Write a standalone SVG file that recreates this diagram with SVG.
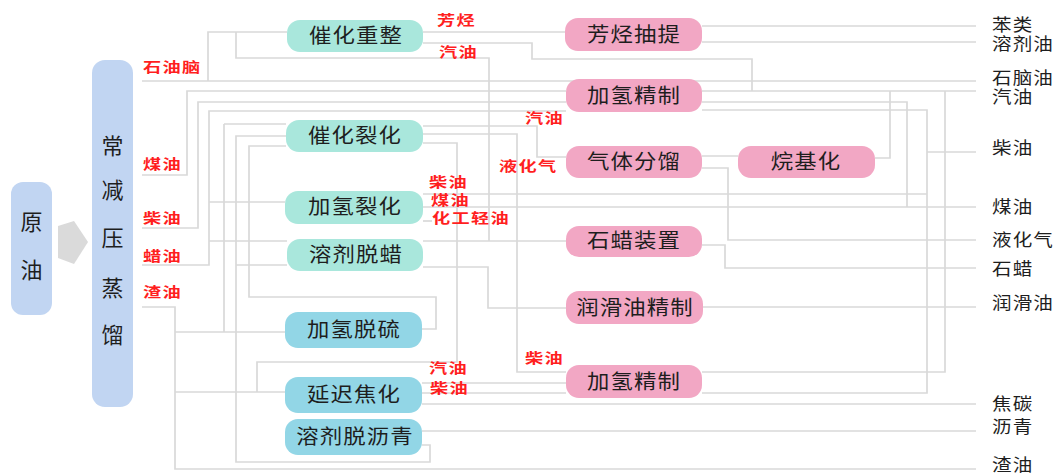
<svg xmlns="http://www.w3.org/2000/svg" width="1058" height="473" viewBox="0 0 1058 473">
<style>
.ln{fill:none;stroke:#d9d9d9;stroke-width:1.7}
.teal{fill:#a9e7dc}
.blue{fill:#92d6e6}
.pink{fill:#f2a7c4}
.col{fill:#c1d5f2}
.nt{font-family:"Noto Sans CJK SC","Noto Sans",sans-serif;font-size:20px;fill:#1e1e1e;text-anchor:middle;letter-spacing:1px}
.vt{font-family:"Noto Sans CJK SC","Noto Sans",sans-serif;font-size:22px;fill:#1e1e1e;text-anchor:middle}
.rl{font-family:"Noto Sans CJK SC","Noto Sans",sans-serif;font-size:14px;font-weight:bold;fill:#ff1f1f;letter-spacing:1px}
.ol{font-family:"Noto Sans CJK SC","Noto Sans",sans-serif;font-size:17px;fill:#1e1e1e;letter-spacing:1px}
</style>
<rect width="1058" height="473" fill="#fff"/>
<g id="connectors">
<path class="ln" d="M142,81 H976"/>
<path class="ln" d="M208,81 V32 H287"/>
<path class="ln" d="M236,32 V58 H489 V241"/>
<path class="ln" d="M142,175 H187 V91 H566"/>
<path class="ln" d="M702,91 H976"/>
<path class="ln" d="M142,228 H198 V102 H566"/>
<path class="ln" d="M702,102 H907 V207"/>
<path class="ln" d="M142,265 H209 V111 H566"/>
<path class="ln" d="M702,110 H927 V393 H702"/>
<path class="ln" d="M209,202 H285"/>
<path class="ln" d="M209,241 H287"/>
<path class="ln" d="M423,32 H565"/>
<path class="ln" d="M423,43 H532 V59 H752 V91"/>
<path class="ln" d="M702,26 H976"/>
<path class="ln" d="M702,42 H976"/>
<path class="ln" d="M224,124 H286 M224,124 V332"/>
<path class="ln" d="M286,136 H236 V462 H430 V445 H422"/>
<path class="ln" d="M236,265 H287"/>
<path class="ln" d="M286,146 H249 V297 H436 V329 H422"/>
<path class="ln" d="M423,126 H537 V157 H566"/>
<path class="ln" d="M423,134 H517 V372 H566"/>
<path class="ln" d="M423,143 H457 V362 H257 V392"/>
<path class="ln" d="M423,194 H927"/>
<path class="ln" d="M423,207 H976"/>
<path class="ln" d="M423,221 H432"/>
<path class="ln" d="M423,241 H566"/>
<path class="ln" d="M423,267 H488 V308 H566"/>
<path class="ln" d="M702,156 H738"/>
<path class="ln" d="M702,168 H728 V240 H976"/>
<path class="ln" d="M875,158 H890 V91"/>
<path class="ln" d="M702,245 H725 V268 H976"/>
<path class="ln" d="M703,307 H976"/>
<path class="ln" d="M702,372 H945 V91"/>
<path class="ln" d="M927,152 H976"/>
<path class="ln" d="M142,307 H175 V469 H976 M175,332 H285 M175,392 H285"/>
<path class="ln" d="M422,383 H566 M422,393 H566"/>
<path class="ln" d="M422,404 H976"/>
<path class="ln" d="M422,431 H976"/>
</g>
<g id="n-crude"><rect class="col" x="11" y="182" width="41" height="133" rx="12"/><text class="vt" x="31.5" y="230">原</text><text class="vt" x="31.5" y="278">油</text></g>
<g id="arrow"><polygon points="58,226 74,221 88,242 74,264 58,258" fill="#dadada"/></g>
<g id="n-cdu"><rect class="col" x="92" y="60" width="41" height="347" rx="13"/>
<text class="vt" x="112.5" y="154">常</text><text class="vt" x="112.5" y="198">减</text><text class="vt" x="112.5" y="246">压</text><text class="vt" x="112.5" y="296">蒸</text><text class="vt" x="112.5" y="343">馏</text></g>
<g id="n-reform"><rect class="teal" x="287" y="20" width="136" height="32" rx="13"/><text class="nt" transform="translate(356,43) scale(1.12,1)">催化重整</text></g>
<g id="n-fcc"><rect class="teal" x="286" y="120" width="137" height="32" rx="13"/><text class="nt" transform="translate(355,143) scale(1.12,1)">催化裂化</text></g>
<g id="n-hcr"><rect class="teal" x="285" y="191" width="138" height="33" rx="13"/><text class="nt" transform="translate(355,214) scale(1.12,1)">加氢裂化</text></g>
<g id="n-dewax"><rect class="teal" x="287" y="239" width="136" height="32" rx="13"/><text class="nt" transform="translate(356,262) scale(1.12,1)">溶剂脱蜡</text></g>
<g id="n-hds"><rect class="blue" x="285" y="312" width="137" height="36" rx="13"/><text class="nt" transform="translate(354,337) scale(1.12,1)">加氢脱硫</text></g>
<g id="n-coker"><rect class="blue" x="285" y="377" width="137" height="36" rx="13"/><text class="nt" transform="translate(354,402) scale(1.12,1)">延迟焦化</text></g>
<g id="n-deasph"><rect class="blue" x="285" y="419" width="137" height="36" rx="13"/><text class="nt" transform="translate(355,444) scale(1.12,1)">溶剂脱沥青</text></g>
<g id="n-arom"><rect class="pink" x="565" y="18" width="137" height="33" rx="13"/><text class="nt" transform="translate(634,42) scale(1.12,1)">芳烃抽提</text></g>
<g id="n-hdt1"><rect class="pink" x="566" y="79" width="136" height="33" rx="13"/><text class="nt" transform="translate(634,103) scale(1.12,1)">加氢精制</text></g>
<g id="n-gas"><rect class="pink" x="566" y="146" width="136" height="32" rx="13"/><text class="nt" transform="translate(634,169) scale(1.12,1)">气体分馏</text></g>
<g id="n-alky"><rect class="pink" x="738" y="146" width="137" height="32" rx="13"/><text class="nt" transform="translate(806,169) scale(1.12,1)">烷基化</text></g>
<g id="n-wax"><rect class="pink" x="566" y="226" width="136" height="31" rx="13"/><text class="nt" transform="translate(634,248) scale(1.12,1)">石蜡装置</text></g>
<g id="n-lube"><rect class="pink" x="566" y="291" width="137" height="33" rx="13"/><text class="nt" transform="translate(635,315) scale(1.12,1)">润滑油精制</text></g>
<g id="n-hdt2"><rect class="pink" x="566" y="365" width="136" height="33" rx="13"/><text class="nt" transform="translate(634,389) scale(1.12,1)">加氢精制</text></g>
<g id="labels-red">
<text class="rl" transform="translate(143,72) scale(1.3,1)">石油脑</text>
<text class="rl" transform="translate(143,169) scale(1.3,1)">煤油</text>
<text class="rl" transform="translate(143,223) scale(1.3,1)">柴油</text>
<text class="rl" transform="translate(143,261) scale(1.3,1)">蜡油</text>
<text class="rl" transform="translate(143,297) scale(1.3,1)">渣油</text>
<text class="rl" transform="translate(437,25) scale(1.3,1)">芳烃</text>
<text class="rl" transform="translate(439,57) scale(1.3,1)">汽油</text>
<text class="rl" transform="translate(525,123) scale(1.3,1)">汽油</text>
<text class="rl" transform="translate(499,171) scale(1.3,1)">液化气</text>
<text class="rl" transform="translate(429,187) scale(1.3,1)">柴油</text>
<text class="rl" transform="translate(431,205) scale(1.3,1)">煤油</text>
<text class="rl" transform="translate(432,223) scale(1.3,1)">化工轻油</text>
<text class="rl" transform="translate(429,373) scale(1.3,1)">汽油</text>
<text class="rl" transform="translate(430,393) scale(1.3,1)">柴油</text>
<text class="rl" transform="translate(525,363) scale(1.3,1)">柴油</text>
</g>
<g id="labels-out">
<text class="ol" transform="translate(992,31) scale(1.15,1)">苯类</text>
<text class="ol" transform="translate(992,50) scale(1.15,1)">溶剂油</text>
<text class="ol" transform="translate(992,84) scale(1.15,1)">石脑油</text>
<text class="ol" transform="translate(992,103) scale(1.15,1)">汽油</text>
<text class="ol" transform="translate(992,154) scale(1.15,1)">柴油</text>
<text class="ol" transform="translate(992,213) scale(1.15,1)">煤油</text>
<text class="ol" transform="translate(992,246) scale(1.15,1)">液化气</text>
<text class="ol" transform="translate(992,275) scale(1.15,1)">石蜡</text>
<text class="ol" transform="translate(992,309) scale(1.15,1)">润滑油</text>
<text class="ol" transform="translate(992,410) scale(1.15,1)">焦碳</text>
<text class="ol" transform="translate(992,433) scale(1.15,1)">沥青</text>
<text class="ol" transform="translate(992,471) scale(1.15,1)">渣油</text>
</g>
</svg>
